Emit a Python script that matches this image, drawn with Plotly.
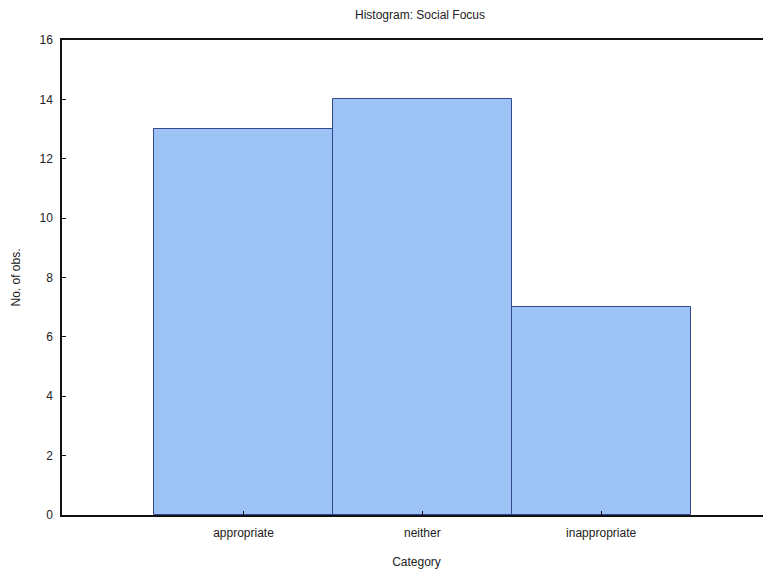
import plotly.graph_objects as go

categories = ["appropriate", "neither", "inappropriate"]
counts = [13, 14, 7]
y_ticks = [0, 2, 4, 6, 8, 10, 12, 14, 16]

fig = go.Figure()
fig.add_trace(go.Bar(
    x=list(range(len(categories))),
    y=counts,
    width=1.0,
    marker=dict(color="#9DC3F6", line=dict(color="#34478F", width=1)),
))

font = dict(family="Liberation Sans, Arial, sans-serif", size=12, color="#222")

fig.update_layout(
    width=763, height=561,
    margin=dict(l=54, r=0, t=32, b=47),
    paper_bgcolor="white", plot_bgcolor="white",
    showlegend=False,
    font=font,
    title=dict(text="Histogram: Social Focus", x=0.54, xanchor="center",
               y=0.987, yanchor="middle", font=dict(size=12, color="#222")),
    bargap=0,
)
fig.update_xaxes(
    range=[-1.015, 2.95],
    tickmode="array", tickvals=list(range(len(categories))), ticktext=categories,
    ticks="inside", ticklen=4, tickcolor="#111",
    ticklabelstandoff=6,
    showline=True, linecolor="#111", linewidth=1.5, mirror=True,
    showgrid=False, zeroline=False,
    title=dict(text="Category", standoff=20, font=dict(size=12)),
)
fig.update_yaxes(
    range=[0, 16],
    tickmode="array", tickvals=y_ticks,
    ticks="inside", ticklen=4, tickcolor="#111",
    ticklabelstandoff=5,
    showline=True, linecolor="#111", linewidth=1.5, mirror=False,
    showgrid=False, zeroline=False,
    title=dict(text="No. of obs.", standoff=16, font=dict(size=12)),
)

fig.write_html("out.html")
